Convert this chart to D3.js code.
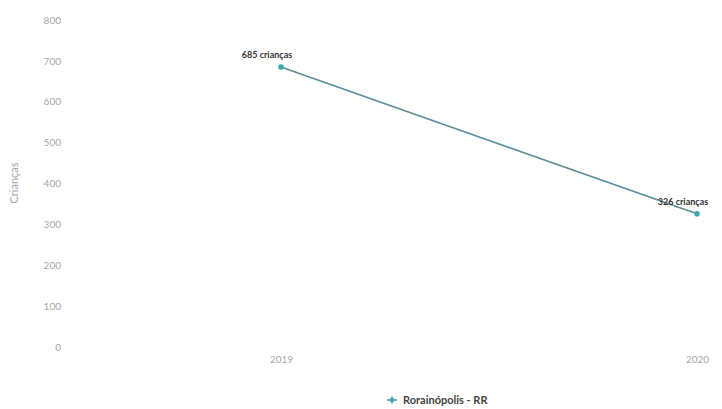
<!DOCTYPE html>
<html><head><meta charset="utf-8">
<script src="https://cdn.jsdelivr.net/npm/d3@7"></script>
<style>body{margin:0;background:#fff;}svg{display:block;}</style>
</head><body>
<svg id="c" width="722" height="409"></svg>
<script>
const categories = ["2019", "2020"];
const values = [685, 326];
const pointLabels = ["685 crianças", "326 crianças"];
const yTicks = [0, 100, 200, 300, 400, 500, 600, 700, 800];
const seriesName = "Rorainópolis - RR";
const yTitle = "Crianças";

const svg = d3.select("#c");
const x = d3.scalePoint().domain(categories).range([281, 697]);
const y = d3.scaleLinear().domain([0, 800]).range([347, 20]);

const yAxis = d3.axisLeft(y).tickValues(yTicks).tickSize(0).tickPadding(0);
const gy = svg.append("g").attr("transform", "translate(61,0)").call(yAxis);
gy.select(".domain").remove();
gy.selectAll("text").attr("font-family", "Lato, 'Open Sans', sans-serif").attr("font-size", 10)
  .attr("fill", "#a6a6a6");

const xAxis = d3.axisBottom(x).tickSize(0).tickPadding(0);
const gx = svg.append("g").attr("transform", "translate(0,356)").call(xAxis);
gx.select(".domain").remove();
gx.selectAll("text").attr("font-family", "Lato, 'Open Sans', sans-serif").attr("font-size", 10)
  .attr("fill", "#a6a6a6");

svg.append("text").attr("transform", "translate(18,183) rotate(-90)")
  .attr("text-anchor", "middle").attr("font-family", "Lato, 'Open Sans', sans-serif")
  .attr("font-size", 11).attr("fill", "#a6a6a6").text(yTitle);

const data = categories.map((c, i) => ({c, v: values[i], l: pointLabels[i]}));
const line = d3.line().x(d => x(d.c)).y(d => y(d.v));
svg.append("path").datum(data).attr("d", line).attr("fill", "none")
  .attr("stroke", "#5d8e9b").attr("stroke-width", 1.6);
svg.selectAll("circle.pt").data(data).enter().append("circle")
  .attr("cx", d => x(d.c)).attr("cy", d => y(d.v)).attr("r", 2.8).attr("fill", "#3fa6b4");
svg.selectAll("text.lbl").data(data).enter().append("text")
  .attr("x", d => x(d.c) - 14).attr("y", d => y(d.v) - 9)
  .attr("text-anchor", "middle").attr("font-family", "Lato, 'Open Sans', sans-serif")
  .attr("font-weight", 700).attr("font-size", 9).attr("fill", "#333").text(d => d.l);

const lg = svg.append("g").attr("transform", "translate(392,400)");
lg.append("line").attr("x1", -5).attr("x2", 5).attr("y1", 0).attr("y2", 0).attr("stroke", "#5d8e9b").attr("stroke-width", 1.5);
lg.append("path").attr("d", d3.symbol().type(d3.symbolDiamond).size(20)()).attr("fill", "#3fa6b4");
lg.append("text").attr("x", 11).attr("y", 4).attr("font-family", "Lato, 'Open Sans', sans-serif")
  .attr("font-weight", 700).attr("font-size", 11).attr("fill", "#444").text(seriesName);
</script>
</body></html>
